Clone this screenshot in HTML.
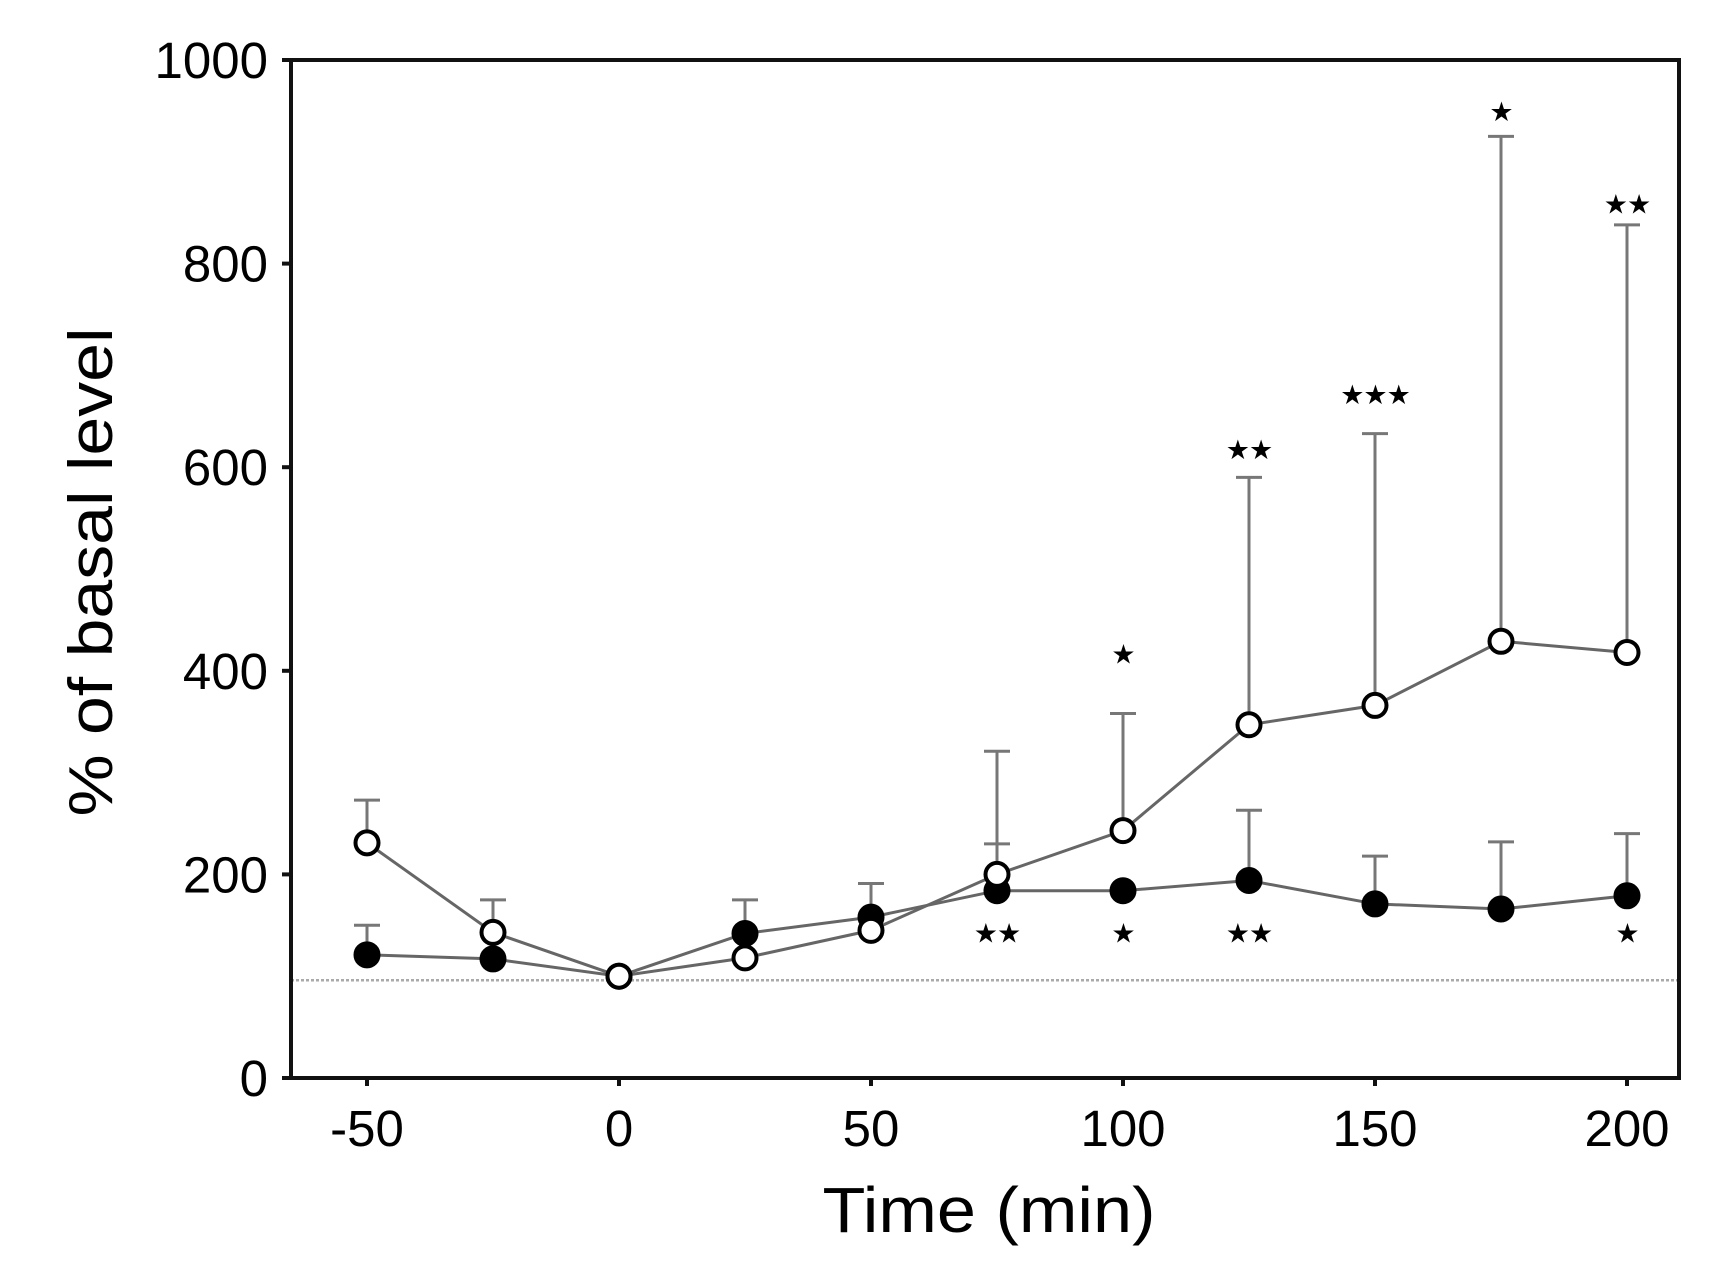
<!DOCTYPE html>
<html><head><meta charset="utf-8"><style>
html,body{margin:0;padding:0;background:#fff}
svg{display:block}
text{font-family:"Liberation Sans",Arial,sans-serif;fill:#000}
</style></head>
<body>
<svg id="chart" width="1733" height="1283" viewBox="0 0 1733 1283" xmlns="http://www.w3.org/2000/svg">
<g id="g"></g>
</svg>
<script>
const times=[-50,-25,0,25,50,75,100,125,150,175,200];
const openVals=[231,143,100,118,145,200,243,347,366,429,418];
const openErr=[273,175,null,null,null,321,358,590,633,925,838];
const filledVals=[121,117,100,142,158,184,184,194,171,166,179];
const filledErr=[150,null,null,175,191,230,null,263,218,232,240];
const starsAbove=["","","","","","","*","**","***","*","**"];
const starsAboveY=[0,0,0,0,0,0,417,618,672,950,859];
const starsBelow=["","","","","","**","*","**","","","*"];
const xTicks=[-50,0,50,100,150,200];
const yTicks=[0,200,400,600,800,1000];
const baseline=96;

const L=291,R=1679,T=60,B=1078;
const X=t=>619+t*5.04;
const Y=v=>B-v*(B-T)/1000;
const NS="http://www.w3.org/2000/svg";
const g=document.getElementById('g');
function mk(tag,attrs,name,txt){const e=document.createElementNS(NS,tag);for(const k in attrs)e.setAttribute(k,attrs[k]);


if(txt!==undefined)e.textContent=txt;g.appendChild(e);return e;}

mk('line',{x1:L,y1:Y(baseline),x2:R,y2:Y(baseline),stroke:'#aaa','stroke-width':2.5,'stroke-dasharray':'3 2'},'basal-reference-line');
mk('rect',{x:L,y:T,width:R-L,height:B-T,fill:'none',stroke:'#111','stroke-width':4},'plot-frame');
yTicks.forEach(v=>{mk('line',{x1:L-9,y1:Y(v),x2:L,y2:Y(v),stroke:'#111','stroke-width':4},'y-tick');
mk('text',{x:268,y:Y(v)+18,'font-size':51,'text-anchor':'end'},'y-tick-label',v);});
xTicks.forEach(t=>{mk('line',{x1:X(t),y1:B,x2:X(t),y2:B+8,stroke:'#111','stroke-width':4},'x-tick');
mk('text',{x:X(t),y:1146,'font-size':51,'text-anchor':'middle'},'x-tick-label',t);});
mk('text',{x:989,y:1232,'font-size':64,'text-anchor':'middle',textLength:333,lengthAdjust:'spacingAndGlyphs'},'x-axis-title','Time (min)');
mk('text',{x:0,y:0,'font-size':62,'text-anchor':'middle',transform:'translate(112,572) rotate(-90)',textLength:489,lengthAdjust:'spacingAndGlyphs'},'y-axis-title','% of basal level');

function errs(vals,errv,name){vals.forEach((v,i)=>{if(errv[i]==null)return;const x=X(times[i]);
mk('line',{x1:x,y1:Y(v),x2:x,y2:Y(errv[i]),stroke:'#777','stroke-width':3},name+'-error-bar');
mk('line',{x1:x-13,y1:Y(errv[i]),x2:x+13,y2:Y(errv[i]),stroke:'#777','stroke-width':3},name+'-error-cap');});}
errs(openVals,openErr,'open');errs(filledVals,filledErr,'filled');
function line(vals,name){mk('polyline',{points:vals.map((v,i)=>X(times[i])+','+Y(v)).join(' '),fill:'none',stroke:'#666','stroke-width':3},name+'-line');}
line(filledVals,'filled');line(openVals,'open');
filledVals.forEach((v,i)=>mk('circle',{cx:X(times[i]),cy:Y(v),r:12.5,fill:'#000',stroke:'#000','stroke-width':2},'filled-point'));
openVals.forEach((v,i)=>mk('circle',{cx:X(times[i]),cy:Y(v),r:11.5,fill:'#fff',stroke:'#000','stroke-width':4},'open-point'));
starsAbove.forEach((s,i)=>{if(!s)return;
mk('text',{x:X(times[i]),y:Y(starsAboveY[i])+10,'font-size':27,'text-anchor':'middle','letter-spacing':-1},'significance-above',s.replace(/\*/g,'★'));});
starsBelow.forEach((s,i)=>{if(!s)return;
mk('text',{x:X(times[i]),y:Y(143)+10,'font-size':27,'text-anchor':'middle','letter-spacing':-1},'significance-below',s.replace(/\*/g,'★'));});
</script>
</body></html>
